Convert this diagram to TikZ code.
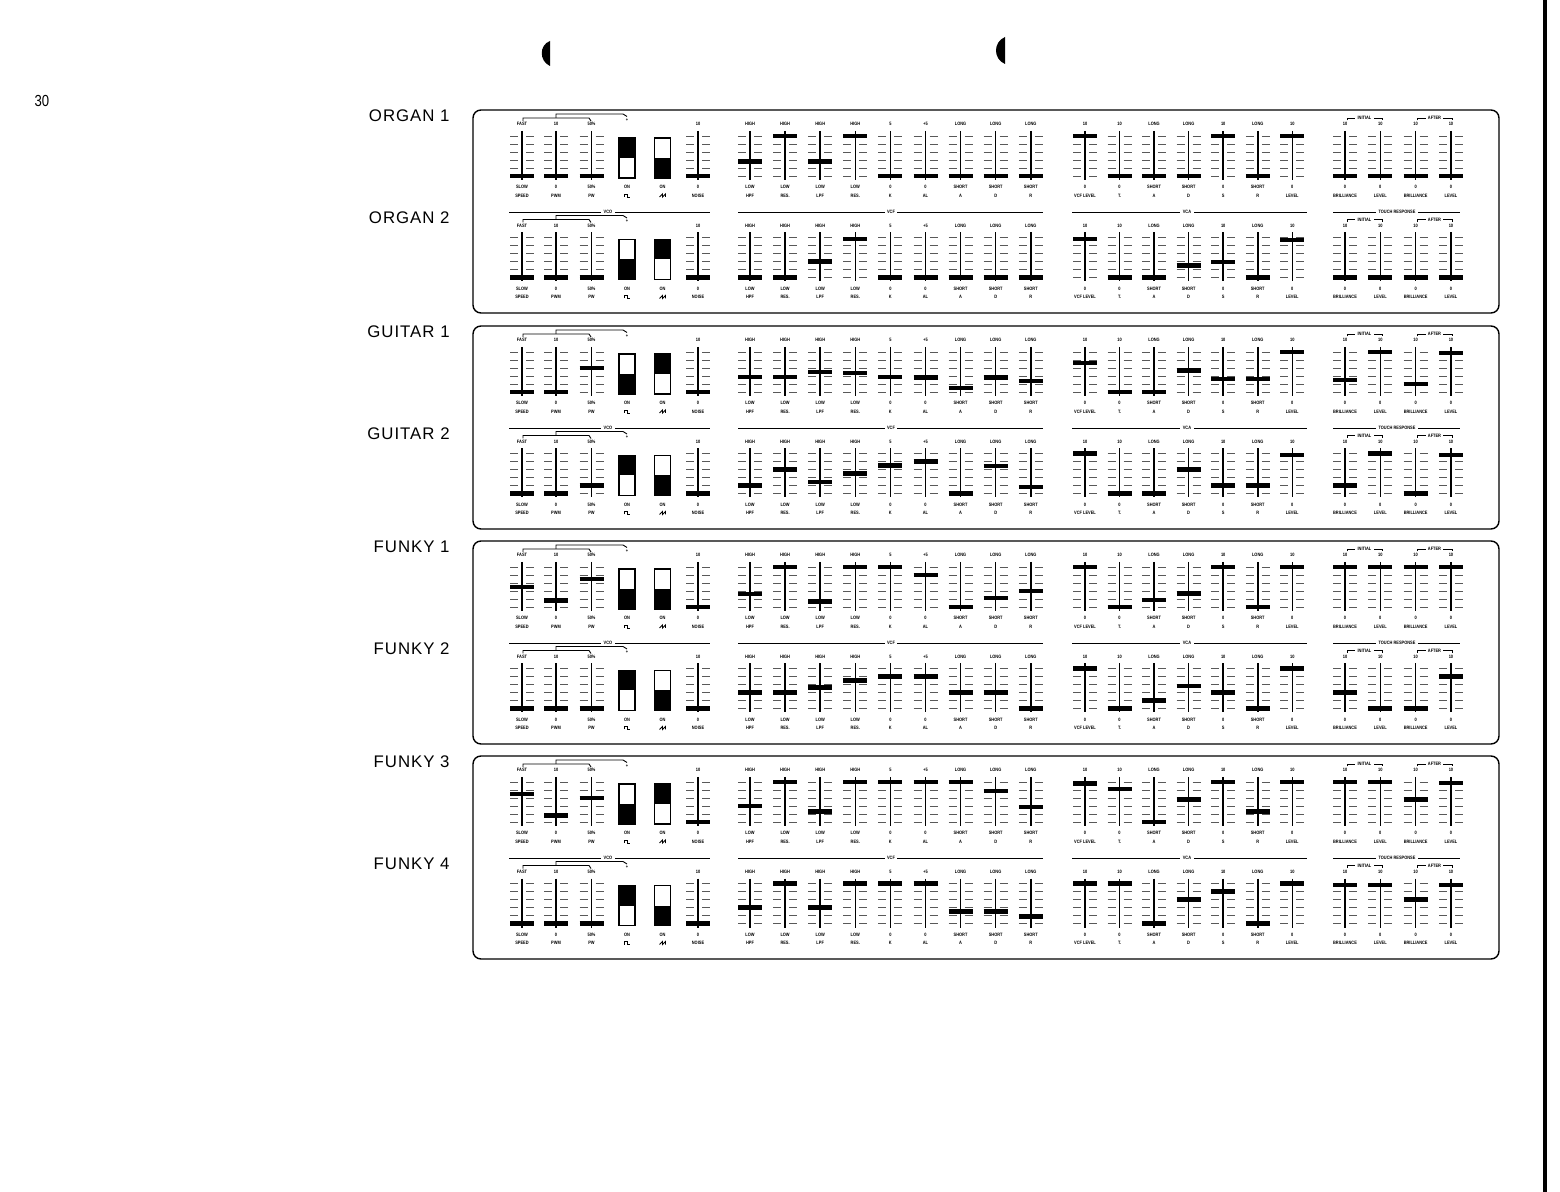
\documentclass[tikz,border=0pt]{standalone}
\usepackage{fontspec}
\newfontfamily\chartfont[FakeStretch=0.82]{Liberation Sans}
\newfontfamily\namefont[LetterSpace=6]{Liberation Sans}

\tikzset{
  gridmark/.style={black!65, line width=0.45pt},
  rail/.style={line width=0.75pt},
  knob/.style={line width=2.2pt},
  sect/.style={line width=0.45pt},
  lbl/.style={font=\chartfont\bfseries\fontsize{2.4}{2.6}\selectfont, inner sep=0pt},
  secttext/.style={lbl, fill=white, inner sep=1.2pt},
  patchname/.style={font=\namefont\fontsize{8.4}{9}\selectfont, anchor=east, inner sep=0pt},
  panel/.style={line width=0.7pt, rounded corners=4pt},
}

% one fader: name, x, baseline, value (0..5), top, bottom, label
\newcommand\fader[7]{%
  \foreach \k in {0,...,5}
    \draw[gridmark] (#2-12,#3-8*\k) -- (#2-4,#3-8*\k) (#2+4,#3-8*\k) -- (#2+12,#3-8*\k);
  \draw[rail] (#2,#3-45) -- (#2,#3+4);
  \draw[knob] (#2-12,#3-8*#4) -- (#2+12,#3-8*#4);
  \node[lbl] (#1t) at (#2,#3-52) {#5};
  \node[lbl] (#1b) at (#2,#3+11) {#6};
  \node[lbl] (#1n) at (#2,#3+19.5) {#7};
}

% waveform switch: name, x, baseline, 1 = upper half black
\newcommand\waveswitch[4]{%
  \ifnum#4=1 \fill (#2-8,#3-38) rectangle (#2+8,#3-18);
  \else \fill (#2-8,#3-18) rectangle (#2+8,#3+2); \fi
  \draw[line width=0.6pt] (#2-8,#3-38) rectangle (#2+8,#3+2);
  \node[lbl] (#1on) at (#2,#3+11) {ON};
}

% one patch row
\newcommand\patchrow[9]{%
  \node[patchname] (#1name) at (450,#2-60) {#3};
  % VCO
  \foreach \xx/\tp/\bt/\nm [count=\i] in {522/FAST/SLOW/SPEED,556/10/0/PWM,591.5/50\%/50\%/PW,698/10/0/NOISE} {
    \pgfmathsetmacro\val{{#4}[\i-1]}
    \fader{#1o\i}{\xx}{#2}{\val}{\tp}{\bt}{\nm}
  }
  \waveswitch{#1s1}{627}{#2}{#5}
  \waveswitch{#1s2}{662.5}{#2}{#6}
  \draw[sect] (624,#2+21) -- (624,#2+18) -- (627,#2+18) -- (627,#2+21) -- (630,#2+21);
  \draw[sect] (659.5,#2+21) -- (662.5,#2+18) -- (662.5,#2+21) -- (665.5,#2+18) -- (665.5,#2+21);
  \draw[sect] (523,#2-55) -- (523,#2-58) -- (589,#2-58) -- (591,#2-55);
  \draw[sect] (556,#2-58) -- (556,#2-62) -- (623,#2-62) -- (627,#2-59.5);
  \node[lbl] (#1plus) at (627,#2-56) {+};
  % VCF
  \foreach \tp/\bt/\nm [count=\i] in {HIGH/LOW/HPF,HIGH/LOW/RES.,HIGH/LOW/LPF,HIGH/LOW/RES.,5/0/K,+5/0/AL,LONG/SHORT/A,LONG/SHORT/D,LONG/SHORT/R} {
    \pgfmathsetmacro\xx{750+35.1*(\i-1)}
    \pgfmathsetmacro\val{{#7}[\i-1]}
    \fader{#1f\i}{\xx}{#2}{\val}{\tp}{\bt}{\nm}
  }
  % VCA
  \foreach \tp/\bt/\nm [count=\i] in {10/0/VCF LEVEL,10/0/T.,LONG/SHORT/A,LONG/SHORT/D,10/0/S,LONG/SHORT/R,10/0/LEVEL} {
    \pgfmathsetmacro\xx{1085+34.55*(\i-1)}
    \pgfmathsetmacro\val{{#8}[\i-1]}
    \fader{#1a\i}{\xx}{#2}{\val}{\tp}{\bt}{\nm}
  }
  % touch response
  \foreach \nm [count=\i] in {BRILLIANCE,LEVEL,BRILLIANCE,LEVEL} {
    \pgfmathsetmacro\xx{1345+35.33*(\i-1)}
    \pgfmathsetmacro\val{{#9}[\i-1]}
    \fader{#1r\i}{\xx}{#2}{\val}{10}{0}{\nm}
  }
  \foreach \xa/\xb/\txt in {1347/1382/INITIAL,1417/1452/AFTER} {
    \draw[sect] (\xa,#2-55.5) -- (\xa,#2-58) -- (\xb,#2-58) -- (\xb,#2-55.5);
    \node[secttext] (#1\txt) at ({(\xa+\xb)/2},#2-58) {\txt};
  }
}

\begin{document}
\begin{tikzpicture}[x=0.5pt, y=-0.5pt]
  \useasboundingbox (0,0) rectangle (1560,1192);
  \node[font=\chartfont\fontsize{8}{9}\selectfont, inner sep=0pt] (pagenum) at (42,101) {30};
  % binder holes and page edge
  \fill (550,41) .. controls (539,45) and (539,61) .. (550,66) -- cycle;
  \fill (1005,37) .. controls (993,42) and (993,59) .. (1005,64) -- cycle;
  \draw[line width=2.2pt] (1545,0) -- (1545,1192);

  \foreach \T in {110,326,541,756} {
    \draw[panel] (473,\T) rectangle (1499,\T+203);
    \draw[sect] (509,\T+102) -- (710,\T+102);
    \node[secttext] (vco\T) at (608,\T+102) {VCO};
    \draw[sect] (738,\T+102) -- (1043,\T+102);
    \node[secttext] (vcf\T) at (891,\T+102) {VCF};
    \draw[sect] (1072,\T+102) -- (1307,\T+102);
    \node[secttext] (vca\T) at (1187,\T+102) {VCA};
    \draw[sect] (1333,\T+102) -- (1460,\T+102);
    \node[secttext] (touch\T) at (1397,\T+102) {TOUCH RESPONSE};
  }

  \patchrow{oa}{176}{ORGAN 1}{0,0,0,0}{1}{0}{1.8,5,1.8,5,0,0,0,0,0}{5,0,0,0,5,0,5}{0,0,0,0}
  \patchrow{ob}{277.5}{ORGAN 2}{0,0,0,0}{0}{1}{0,0,2,4.8,0,0,0,0,0}{4.8,0,0,1.5,1.9,0,4.7}{0,0,0,0}
  \patchrow{ga}{392}{GUITAR 1}{0,0,3,0}{0}{1}{1.9,1.9,2.5,2.4,1.9,1.8,0.5,1.8,1.4}{3.6,0,0,2.7,1.6,1.6,5}{1.5,5,1,4.9}
  \patchrow{gb}{493.5}{GUITAR 2}{0,0,1,0}{1}{0}{1,3,1.4,2.5,3.5,4,0,3.4,0.8}{5,0,0,3,1,1,4.8}{1,5,0,4.8}
  \patchrow{fa}{607}{FUNKY 1}{2.5,0.8,3.5,0}{0}{0}{1.6,5,0.7,5,5,4,0,1.1,2}{5,0,0.9,1.7,5,0,5}{5,5,5,5}
  \patchrow{fb}{708.5}{FUNKY 2}{0,0,0,0}{1}{0}{2,2,2.6,3.5,4,4,2,2,0}{5,0,1,2.8,2,0,5}{2,0,0,4}
  \patchrow{fc}{822}{FUNKY 3}{3.5,0.8,3,0}{0}{1}{2,5,1.3,5,5,5,5,3.9,1.9}{4.8,4.1,0,2.8,5,1.3,5}{5,5,2.8,4.9}
  \patchrow{fd}{923.5}{FUNKY 4}{0,0,0,0}{1}{0}{2,5,2,5,5,5,1.5,1.5,0.9}{5,5,0,3,4,0,5}{4.8,4.8,3,4.8}
\end{tikzpicture}
\end{document}
